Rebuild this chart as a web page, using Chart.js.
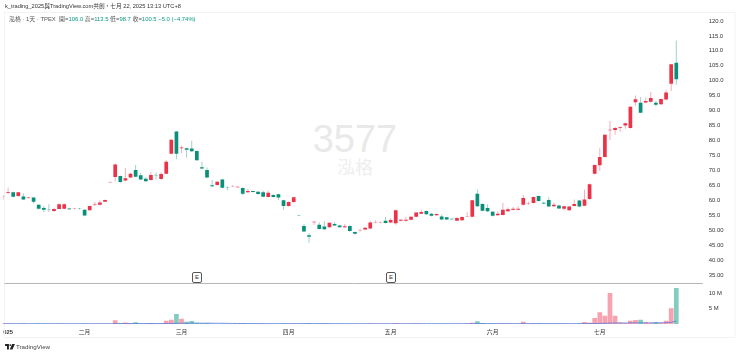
<!DOCTYPE html>
<html>
<head>
<meta charset="utf-8">
<script src="https://cdn.jsdelivr.net/npm/chart.js@4"></script>
<style>
html,body{margin:0;padding:0;background:#fff;width:740px;height:355px;overflow:hidden;font-family:"Liberation Sans","Noto Sans CJK TC",sans-serif}
#wrap{position:relative;width:740px;height:355px;overflow:hidden}
canvas{position:absolute;left:-2px;top:0;z-index:2}
.t{position:absolute;white-space:pre;line-height:1}
#title{left:5px;top:4px;font-size:5.7px;color:#333;z-index:3}
#legend{left:9px;top:17px;font-size:5.9px;color:#555;z-index:3}
#legend b{font-weight:normal;color:#089981}
#wm1{left:255px;width:200px;text-align:center;top:120px;font-size:38px;color:#e9e9ea;z-index:1}
#wm2{left:255px;width:200px;text-align:center;top:159px;font-size:18px;color:#eeeeef;z-index:1}
.e{position:absolute;top:272px;width:8px;height:9px;border:1px solid #555;border-radius:2px;font-size:6px;line-height:9px;text-align:center;color:#333;z-index:3;background:#fff}
#logo{position:absolute;left:5px;top:344px;z-index:3}
#tv{left:16px;top:344px;font-size:6.2px;color:#444;z-index:3}
</style>
</head>
<body>
<div id="wrap">
<div class="t" id="wm1">3577</div>
<div class="t" id="wm2">泓格</div>
<canvas id="c" width="742" height="355"></canvas>
<div class="t" id="title">k_trading_2025與TradingView.com共創，七月 22, 2025 13:13 UTC+8</div>
<div class="t" id="legend">泓格 · 1天 · TPEX  開=<b>106.0</b> 高=<b>113.5</b> 低=<b>98.7</b> 收=<b>100.5</b> <b>−5.0 (−4.74%)</b></div>
<div class="e" style="left:192px">E</div>
<div class="e" style="left:386px">E</div>
<svg id="logo" width="10" height="6" viewBox="0 0 36 22"><path d="M0 0h14v20H7V7H0z M26 0h10l-9 20H17z" fill="#222"/><circle cx="19" cy="4" r="3.5" fill="#222"/></svg>
<div class="t" id="tv">TradingView</div>
</div>
<script>
const opens=[61.1,62.5,62.7,61.4,61.3,60.8,60.9,58.5,57.4,56.9,56.4,57.1,57.2,57.3,57.1,57.2,56.8,56.7,58.6,58.5,59.5,66.0,67.8,68.1,66.6,67.6,70.1,68.4,67.2,66.8,68.4,67.1,68.9,75.6,83.0,77.4,77.4,77.3,76.5,71.1,70.1,65.0,65.1,67.0,64.4,64.7,64.4,64.1,62.7,63.1,62.9,62.7,61.1,61.8,62.0,60.0,58.1,59.4,55.0,51.4,48.3,52.7,51.8,51.2,51.0,52.1,51.6,51.0,51.4,49.4,49.8,50.2,50.6,52.6,52.6,53.2,52.6,52.3,53.2,53.2,53.5,54.5,55.5,56.4,55.5,55.0,54.6,54.3,53.8,53.2,53.3,54.6,54.5,62.2,58.8,57.4,56.2,55.0,55.1,56.3,56.8,56.8,58.5,59.0,59.1,61.4,59.2,60.1,58.0,58.3,57.2,56.7,58.1,59.9,58.2,60.4,68.9,71.7,74.5,83.4,83.5,84.3,85.0,84.2,92.8,92.6,92.7,93.0,92.6,92.1,93.7,99.0,106.0];
const highs=[61.8,64.2,62.9,62.9,62.3,61.1,61.0,58.7,58.2,58.7,57.5,58.9,59.0,57.5,57.4,57.4,57.0,58.3,59.4,60.0,60.3,66.3,72.2,68.3,70.9,69.2,71.8,69.1,67.8,69.4,69.3,69.4,73.5,80.5,83.2,78.3,77.6,79.9,76.7,72.9,71.0,66.8,66.4,67.2,64.7,65.0,64.7,64.3,63.8,63.3,63.1,63.3,63.2,62.0,62.2,60.2,59.6,61.2,55.2,52.1,49.0,53.0,52.7,53.0,52.7,52.7,51.8,52.1,51.6,49.6,50.5,51.0,53.2,53.3,52.9,54.4,54.1,56.9,53.7,54.5,54.7,56.1,56.8,56.6,55.7,55.6,55.2,54.5,54.0,54.3,54.6,56.0,60.2,63.6,59.0,58.7,56.4,56.3,59.2,57.6,57.8,58.0,61.8,59.5,61.3,61.6,59.4,61.0,59.2,58.5,58.2,58.1,60.3,60.1,63.6,65.6,72.0,77.4,82.1,86.6,84.5,84.7,86.0,91.5,95.1,94.6,94.3,96.2,93.3,94.1,97.0,105.7,113.5];
const lows=[60.1,62.0,61.0,61.2,60.1,60.6,59.0,56.9,56.0,56.1,56.1,56.9,57.0,56.8,56.9,56.9,54.7,56.5,58.1,58.3,59.4,65.9,66.3,65.9,66.4,67.4,67.7,66.8,66.2,66.6,67.0,66.9,68.7,75.4,73.7,75.8,74.2,76.2,73.2,70.4,67.4,64.4,64.9,64.0,63.4,64.5,64.2,61.7,62.5,62.6,61.9,61.0,60.9,60.9,60.1,56.8,57.9,59.2,54.7,49.4,45.8,51.8,50.2,50.1,50.8,51.4,50.8,50.8,49.5,48.6,49.6,50.0,50.4,52.3,52.4,52.2,52.4,51.8,53.0,53.0,53.3,54.3,55.3,55.1,54.6,54.8,53.4,53.4,53.5,53.0,53.1,54.4,54.3,57.8,56.3,56.1,54.6,54.8,54.9,56.1,56.6,56.6,58.3,58.4,58.9,59.6,58.7,57.7,57.8,57.1,56.6,56.5,57.9,57.7,58.0,60.2,68.6,69.8,74.3,80.2,81.9,82.9,83.9,84.0,91.6,89.1,92.5,92.8,91.5,91.9,93.5,96.6,98.7];
const closes=[61.2,62.8,61.2,62.7,60.3,60.9,59.5,57.2,56.8,56.8,57.1,58.7,58.7,57.0,57.2,57.1,54.9,58.1,58.8,59.3,60.1,66.1,72.0,66.1,67.4,68.9,67.9,67.0,66.4,68.5,68.3,68.8,72.9,80.3,75.6,77.7,76.9,76.4,73.4,70.6,67.6,64.7,66.2,64.2,64.3,64.8,64.5,62.2,63.1,62.8,62.1,61.2,62.5,61.1,60.9,58.1,59.4,61.0,54.9,49.6,47.8,52.8,50.4,50.3,52.5,51.6,51.0,51.3,49.7,48.8,49.9,50.8,52.6,52.7,52.7,52.4,53.4,56.7,53.5,53.5,54.5,55.9,56.1,55.3,54.8,55.4,53.6,53.6,53.7,54.1,54.4,54.7,60.0,58.0,56.5,56.3,54.8,55.5,56.8,57.0,57.2,57.2,60.8,59.1,61.1,59.8,58.9,57.9,58.5,57.3,58.0,57.9,58.8,57.9,60.3,65.4,71.8,74.5,81.9,83.6,84.2,84.5,85.8,91.3,93.8,89.3,93.2,94.2,92.0,93.9,96.1,105.5,100.5];
const volumes=[0.1,0.15,0.12,0.1,0.13,0.08,0.12,0.14,0.1,0.12,0.1,0.14,0.12,0.08,0.07,0.08,0.16,0.12,0.1,0.12,0.1,0.08,1.2,0.3,0.5,0.25,0.6,0.2,0.15,0.3,0.12,0.2,1.1,1.4,3.3,1.7,0.75,1.0,0.4,0.25,0.3,0.15,0.1,0.2,0.1,0.08,0.08,0.15,0.1,0.08,0.1,0.12,0.12,0.08,0.1,0.2,0.12,0.15,0.12,0.2,0.25,0.12,0.2,0.15,0.18,0.1,0.08,0.08,0.12,0.1,0.07,0.1,0.18,0.1,0.07,0.12,0.1,0.25,0.08,0.08,0.1,0.15,0.1,0.12,0.08,0.07,0.1,0.08,0.06,0.1,0.12,0.2,0.4,0.9,0.3,0.2,0.15,0.1,0.15,0.1,0.08,0.08,0.75,0.1,0.2,0.15,0.08,0.12,0.1,0.08,0.08,0.08,0.1,0.15,0.65,0.4,2.0,3.9,2.7,10.2,2.7,0.5,0.35,1.1,1.3,1.4,0.55,0.45,0.65,0.45,1.1,5.2,11.9];
const volumeMa=[0.1,0.1,0.1,0.1,0.1,0.1,0.1,0.1,0.1,0.1,0.1,0.1,0.1,0.1,0.1,0.1,0.1,0.1,0.1,0.1,0.1,0.1,0.12,0.12,0.13,0.13,0.14,0.14,0.14,0.15,0.15,0.15,0.17,0.19,0.22,0.25,0.26,0.27,0.27,0.27,0.27,0.26,0.25,0.23,0.21,0.19,0.17,0.16,0.15,0.14,0.13,0.12,0.12,0.12,0.11,0.11,0.11,0.11,0.11,0.11,0.11,0.11,0.11,0.11,0.11,0.11,0.11,0.11,0.1,0.1,0.1,0.1,0.1,0.1,0.1,0.1,0.1,0.1,0.1,0.1,0.1,0.1,0.1,0.1,0.1,0.1,0.1,0.1,0.1,0.1,0.1,0.1,0.11,0.12,0.12,0.12,0.12,0.12,0.12,0.12,0.12,0.12,0.13,0.13,0.13,0.13,0.13,0.12,0.12,0.12,0.12,0.12,0.12,0.12,0.13,0.14,0.16,0.2,0.23,0.3,0.33,0.34,0.35,0.36,0.37,0.38,0.38,0.38,0.38,0.38,0.4,0.55,0.95];
const monthTicks=[[1,'025'],[16,'二月'],[35,'三月'],[56,'四月'],[76,'五月'],[96,'六月'],[117,'七月']];
const priceTicks=[35,40,45,50,55,60,65,70,75,80,85,90,95,100,105,110,115,120];
const volumeTicks=[5,10];
const categories=Array.from({length:138},()=>'');
monthTicks.forEach(([i,s])=>{categories[i]=s});

const UP='#ea3349',DOWN='#0a8f78';
const up=opens.map((o,i)=>closes[i]>=o);
const fit=(w)=>function(s){s.width=w};
const borders={id:'borders',beforeDatasetsDraw(ch){
  const {ctx,chartArea:a,scales:{y}}=ch;ctx.save();
  ctx.strokeStyle='#f2f3f6';ctx.lineWidth=1;ctx.beginPath();
  ctx.moveTo(a.left+1.5,a.top+.5);ctx.lineTo(737,a.top+.5);
  ctx.moveTo(a.left+1.5,a.top);ctx.lineTo(a.left+1.5,337.5);
  ctx.moveTo(a.left+1.5,337.5);ctx.lineTo(737,337.5);
  ctx.moveTo(737,a.top);ctx.lineTo(737,337.5);ctx.stroke();
  ctx.strokeStyle='#b4b6bb';ctx.beginPath();ctx.moveTo(a.left+1.5,Math.round(y.bottom)-.5);ctx.lineTo(a.right+1,Math.round(y.bottom)-.5);ctx.stroke();
  ctx.restore();}};
new Chart(document.getElementById('c'),{
  type:'bar',
  plugins:[borders],
  data:{labels:categories,datasets:[
    {type:'line',data:volumeMa,yAxisID:'v',borderColor:'rgba(70,110,225,.7)',borderWidth:1,pointRadius:0,order:1,tension:0},
    {data:opens.map((o,i)=>[o,closes[i]]),yAxisID:'y',barThickness:3.7,grouped:false,inflateAmount:0,borderWidth:0,
      backgroundColor:up.map(u=>u?UP:DOWN),order:2},
    {data:lows.map((l,i)=>[l,highs[i]]),yAxisID:'y',barThickness:1,grouped:false,inflateAmount:0,borderWidth:0,
      backgroundColor:up.map(u=>u?'rgba(234,51,73,.4)':'rgba(10,143,120,.4)'),order:3},
    {data:volumes,yAxisID:'v',barThickness:4.7,grouped:false,inflateAmount:0,borderWidth:0,
      backgroundColor:up.map(u=>u?'rgba(242,70,95,.5)':'rgba(8,153,129,.5)'),order:4}
  ]},
  options:{responsive:false,animation:false,
    layout:{padding:{left:0,right:0,top:12,bottom:0}},
    plugins:{legend:{display:false},tooltip:{enabled:false}},
    scales:{
      x:{type:'category',offset:false,grid:{display:false,offset:false,drawTicks:false},border:{display:false},
        afterFit(s){s.height=31},
        ticks:{autoSkip:false,maxRotation:0,minRotation:0,padding:5,color:'#333',
          font:c=>({size:5.8,family:'"Liberation Sans","Noto Sans CJK TC"',weight:c.tick&&c.tick.label==='025'?'bold':'normal'})}},
      y:{position:'right',stack:'p',stackWeight:272,min:32,max:123,grid:{display:false,drawTicks:false},border:{display:false},
        afterBuildTicks(s){s.ticks=priceTicks.map(value=>({value}))},
        afterFit:fit(38.2),
        ticks:{autoSkip:false,padding:7,color:'#333',font:{size:5.9,family:'"Liberation Sans"'},
          callback:v=>v<=50?v.toFixed(2):v.toFixed(1)}},
      v:{position:'right',stack:'p',stackWeight:40,min:0,max:13.2,grid:{display:false,drawTicks:false},border:{display:false},
        afterBuildTicks(s){s.ticks=volumeTicks.map(value=>({value}))},
        afterFit:fit(38.2),
        ticks:{autoSkip:false,padding:7,color:'#333',font:{size:5.9,family:'"Liberation Sans"'},callback:v=>v+' M'}}
    }}
});
</script>
</body>
</html>
